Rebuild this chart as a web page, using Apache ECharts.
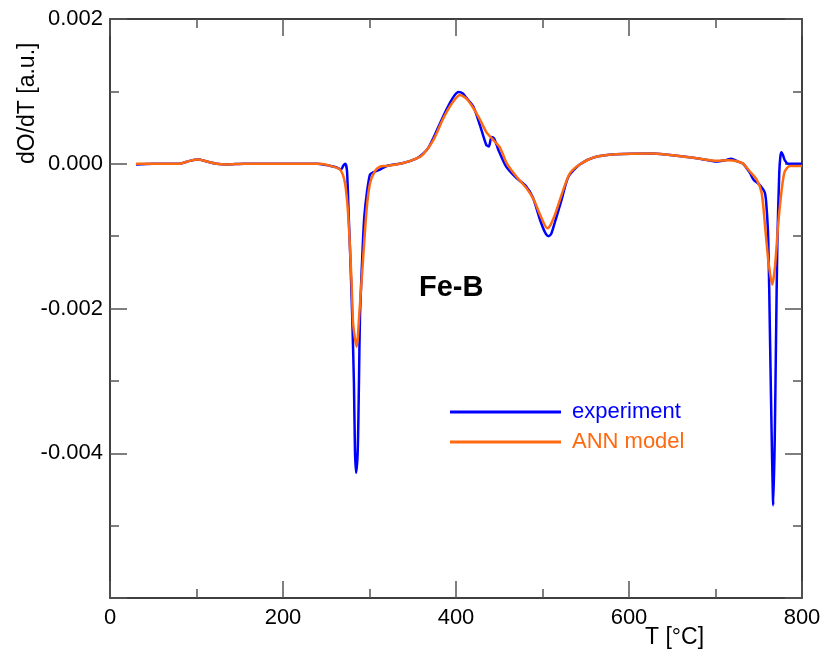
<!DOCTYPE html>
<html>
<head>
<meta charset="utf-8">
<script src="https://cdn.jsdelivr.net/npm/echarts@6/dist/echarts.min.js"></script>
<style>
html,body{margin:0;padding:0;background:#fff;}
#chart{width:826px;height:654px;}
</style>
</head>
<body>
<div id="chart"></div>
<script>
// Experiment (blue)
const expT = [30,50,80,92,102,112,123,135,155,200,240,255,262,267,270,272,274,276,277.5,280,282,283.2,284.5,286.4,287.8,289,292,294,297,300.5,304,312,320,339,354,362,368,374,385,393,398,403,408,412,420,428,435,438,441,444,447,449,458,470,481,489,497,503,507,510,514,522,530,543,560,585,628,655,682,701,712,718,726,732,740,744,751,757,759,761,763,765,766.8,768.5,770,771.5,773.7,775,776.4,778,780,784,800];
const expV = [-0.00001,0,0,0.00004,0.00006,0.00003,0,-0.00001,0,0,0,-0.00003,-0.00005,-0.00008,-0.00002,0.00000,-0.0001,-0.00073,-0.00119,-0.0021,-0.00303,-0.00396,-0.00427,-0.00396,-0.00303,-0.0021,-0.00119,-0.00073,-0.0004,-0.00015,-0.00012,-0.00008,-0.00003,0.00001,0.00007,0.00014,0.00022,0.00036,0.00065,0.00084,0.00094,0.00099,0.00097,0.00091,0.00079,0.00052,0.00026,0.00024,0.00037,0.00035,0.00026,0.00019,-0.00004,-0.0002,-0.00031,-0.00047,-0.00077,-0.00095,-0.001,-0.00097,-0.00082,-0.0005,-0.00018,-0.00001,0.00009,0.00013,0.00014,0.00011,0.00007,0.00003,0.00005,0.00007,0.00003,0,-0.00013,-0.00022,-0.00029,-0.0004,-0.0006,-0.00105,-0.0024,-0.0038,-0.00472,-0.0038,-0.0024,-0.0011,-0.00013,0.0001,0.00016,0.00012,0.00005,0,0];
// ANN model (orange)
const annT = [30,80,92,102,112,123,135,155,243,255,266,271.7,275.5,279.3,281,283,285,286.5,288,292,296.6,300.6,306,312,320,339,354,362,374,385,395,404.6,412,420,427.7,435.5,443,451,458.5,470,481.6,490,497,505.6,509,514.5,524,531.8,543,560,585,628,655,682,701,715,726,732,740,747.6,753.3,757,761,765.6,768.8,772.6,776.5,780,785.8,800];
const annV = [0,0,0.00004,0.00006,0.00003,0,-0.00001,0,0,-0.00003,-0.00008,-0.00027,-0.00073,-0.00165,-0.0022,-0.0024,-0.00253,-0.0024,-0.00211,-0.00142,-0.00064,-0.00027,-0.00011,-0.00004,-0.00003,0.00001,0.00007,0.00013,0.00033,0.00062,0.00083,0.00095,0.0009,0.00077,0.00061,0.00043,0.00033,0.00022,0.00001,-0.00018,-0.00034,-0.0005,-0.0007,-0.00089,-0.00085,-0.0007,-0.00036,-0.00013,-0.00001,0.00009,0.00013,0.00014,0.00011,0.00007,0.00004,0.00005,0.00003,0,-0.00011,-0.00022,-0.0004,-0.00082,-0.00133,-0.00167,-0.00142,-0.00082,-0.00036,-0.00011,-0.00003,-0.00003];

const seriesNames = ['experiment', 'ANN model'];
const xMin = 0, xMax = 800, xStep = 200;
const yMin = -0.006, yMax = 0.002, yStep = 0.002;

const FONT = 'Liberation Sans, Arial, sans-serif';
const blue = '#0000ff', orange = '#ff6a10';

function pairs(t, v) { return t.map((x, i) => [x, v[i]]); }

const tickStyle = {show: true, inside: true, length: 17, lineStyle: {color: '#555', width: 1.5}};
const minorStyle = {show: true, splitNumber: 2, length: 9, lineStyle: {color: '#555', width: 1.5}};
const lineStyleAx = {show: true, onZero: false, lineStyle: {color: '#000', width: 1.5}};

const chart = echarts.init(document.getElementById('chart'));
chart.setOption({
  animation: false,
  backgroundColor: '#fff',
  grid: {left: 110, right: 24, top: 19, bottom: 56, containLabel: false},
  xAxis: [
    {type: 'value', min: xMin, max: xMax, interval: xStep, position: 'bottom',
     axisLine: lineStyleAx, axisTick: tickStyle, minorTick: minorStyle, splitLine: {show: false},
     axisLabel: {show: true, margin: 9, color: '#000', fontSize: 22, fontFamily: FONT}},
    {type: 'value', min: xMin, max: xMax, interval: xStep, position: 'top',
     axisLine: lineStyleAx, axisTick: tickStyle, minorTick: minorStyle, splitLine: {show: false},
     axisLabel: {show: false}}
  ],
  yAxis: [
    {type: 'value', min: yMin, max: yMax, interval: yStep, position: 'left',
     axisLine: lineStyleAx, axisTick: tickStyle, minorTick: minorStyle, splitLine: {show: false},
     axisLabel: {show: true, margin: 7, color: '#000', fontSize: 22, fontFamily: FONT,
       formatter: v => (v < -0.005 ? '' : (Math.abs(v) < 1e-9 ? '0.000' : v.toFixed(3)))}},
    {type: 'value', min: yMin, max: yMax, interval: yStep, position: 'right',
     axisLine: lineStyleAx, axisTick: tickStyle, minorTick: minorStyle, splitLine: {show: false},
     axisLabel: {show: false}}
  ],
  legend: {
    orient: 'vertical', left: 450, top: 401, padding: 0, itemWidth: 111, itemHeight: 3, itemGap: 8,
    icon: 'rect',
    textStyle: {fontSize: 22, fontFamily: FONT, padding: [0, 0, 0, 6]},
    data: [
      {name: seriesNames[0], textStyle: {color: blue}},
      {name: seriesNames[1], textStyle: {color: orange}}
    ]
  },
  graphic: [
    {type: 'text', left: 419, top: 273, style: {text: 'Fe-B', font: 'bold 29px ' + FONT, fill: '#000'}},
    {type: 'text', x: 16, y: 164, rotation: Math.PI / 2, style: {text: 'dO/dT [a.u.]', font: '23px ' + FONT, fill: '#000', textAlign: 'left', textVerticalAlign: 'top'}},
    {type: 'text', left: 645, top: 626, style: {text: 'T [°C]', font: '23px ' + FONT, fill: '#000'}}
  ],
  series: [
    {name: seriesNames[0], type: 'line', xAxisIndex: 0, yAxisIndex: 0, data: pairs(expT, expV),
     showSymbol: false, smooth: 0.25, lineStyle: {color: blue, width: 2.5}, itemStyle: {color: blue}, z: 2},
    {name: seriesNames[1], type: 'line', xAxisIndex: 0, yAxisIndex: 0, data: pairs(annT, annV),
     showSymbol: false, smooth: 0.25, lineStyle: {color: orange, width: 2.5}, itemStyle: {color: orange}, z: 3}
  ]
});
</script>
</body>
</html>
